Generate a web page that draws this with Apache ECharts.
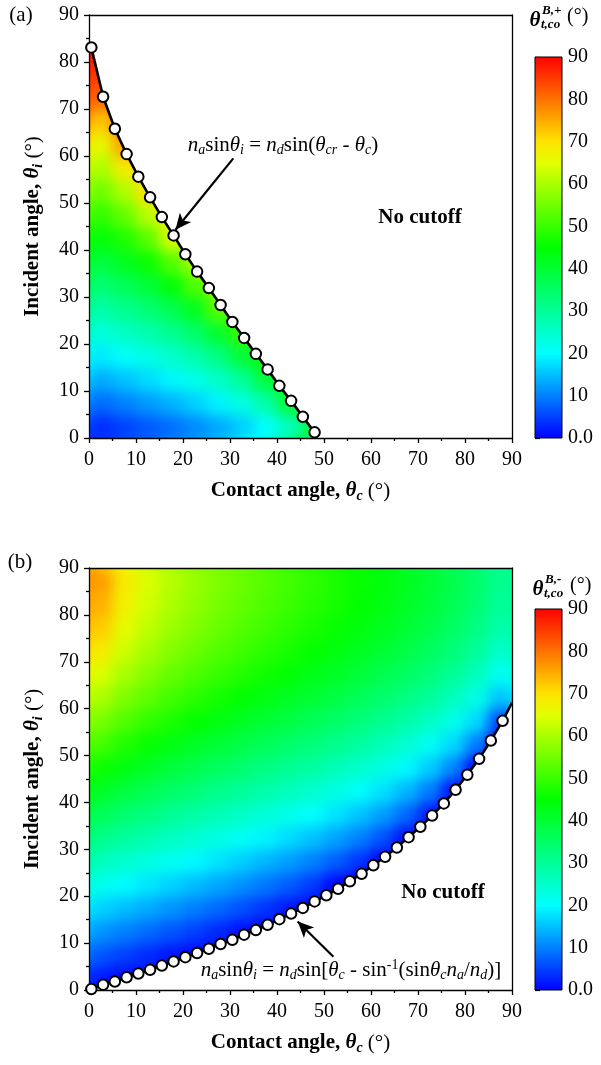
<!DOCTYPE html>
<html>
<head>
<meta charset="utf-8">
<script src="https://cdn.jsdelivr.net/npm/echarts@6/dist/echarts.min.js"></script>
<style>
  html, body { margin: 0; padding: 0; background: #fff; }
  #wrap { position: relative; width: 601px; height: 1065px; }
  #cells, #main { position: absolute; left: 0; top: 0; width: 601px; height: 1065px; }
  #cells { filter: blur(7px); }
</style>
</head>
<body>
<div id="wrap">
  <div id="cells"></div>
  <div id="main"></div>
</div>
<script>
const FONT = '"Liberation Serif", "Times New Roman", serif';

// colour scale 0..90 deg, one colour every 5 deg
const palette = ['#0000ff', '#0040ff', '#0080ff', '#00bfff', '#00ffff', '#00ffcc', '#00ff99', '#00ff66', '#00ff33', '#00ff00',
  '#39ff00', '#71ff00', '#aaff00', '#e3ff00', '#ffe300', '#ffaa00', '#ff7100', '#ff3900', '#ff0000'];
const axisTicks = [0, 10, 20, 30, 40, 50, 60, 70, 80, 90];

// cell centres (deg); each list below is one theta_c column, from theta_i = 2.5 upwards
const rowsI = [2.5, 7.5, 12.5, 17.5, 22.5, 27.5, 32.5, 37.5, 42.5, 47.5, 52.5, 57.5, 62.5, 67.5, 72.5, 77.5, 82.5, 87.5];
const colsA = [2.5, 7.5, 12.5, 17.5, 22.5, 27.5, 32.5, 37.5, 42.5, 47.5];
const valsA = [
  [3.3, 8.3, 13.4, 18.4, 23.5, 28.5, 33.7, 38.8, 44.0, 49.2, 54.6, 60.1, 65.9, 72.3, 81.1, 85, 88],
  [5.0, 10.1, 15.2, 20.4, 25.6, 30.9, 36.3, 41.8, 47.5, 53.7, 60.3, 68.6, 76, 80],
  [6.8, 12.0, 17.2, 22.5, 28.0, 33.6, 39.5, 45.8, 52.8, 61.2, 70],
  [8.7, 14.0, 19.4, 25.1, 30.9, 37.1, 44.0, 52.1, 64.0, 68],
  [10.8, 16.3, 22.1, 28.2, 34.8, 42.2, 51.7, 60],
  [13.2, 19.1, 25.5, 32.4, 40.6, 52.9, 57],
  [16.2, 22.7, 30.1, 39.4, 50],
  [20.1, 28.0, 38.6, 46],
  [26.1, 39.7, 43],
  [38]
];
const colsB = [2.5, 7.5, 12.5, 17.5, 22.5, 27.5, 32.5, 37.5, 42.5, 47.5, 52.5, 57.5, 62.5, 67.5, 72.5, 77.5, 82.5, 87.5];
const valsB = [
  [1.7, 6.7, 11.6, 16.6, 21.6, 26.5, 31.4, 36.3, 41.2, 46.0, 50.8, 55.5, 60.0, 64.3, 68.4, 72.1, 74.5, 76.3],
  [0.5, 5.0, 10.0, 14.9, 19.8, 24.7, 29.5, 34.2, 38.9, 43.4, 47.8, 52.1, 56.1, 59.8, 63.1, 65.8, 67.7, 68.7],
  [0, 3.3, 8.3, 13.3, 18.1, 22.9, 27.7, 32.3, 36.8, 41.2, 45.4, 49.4, 53.2, 56.5, 59.5, 61.8, 63.4, 64.3],
  [null, 1.6, 6.6, 11.6, 16.5, 21.2, 25.9, 30.5, 35.0, 39.2, 43.3, 47.2, 50.7, 53.9, 56.6, 58.8, 60.3, 61.0],
  [null, 0.3, 4.9, 9.9, 14.8, 19.6, 24.3, 28.8, 33.2, 37.4, 41.4, 45.2, 48.6, 51.7, 54.3, 56.3, 57.7, 58.4],
  [null, 0, 3.0, 8.1, 13.1, 17.9, 22.6, 27.2, 31.5, 35.7, 39.7, 43.4, 46.7, 49.7, 52.2, 54.2, 55.5, 56.2],
  [null, null, 1.0, 6.2, 11.3, 16.2, 20.9, 25.5, 29.9, 34.1, 38.0, 41.6, 45.0, 47.9, 50.4, 52.3, 53.6, 54.3],
  [null, null, 0, 4.1, 9.3, 14.3, 19.2, 23.8, 28.2, 32.4, 36.3, 40.0, 43.3, 46.2, 48.6, 50.5, 51.8, 52.5],
  [null, null, null, 1.7, 7.2, 12.3, 17.3, 22.0, 26.5, 30.7, 34.7, 38.3, 41.6, 44.5, 46.9, 48.8, 50.1, 50.7],
  [null, null, null, 0, 4.6, 10.1, 15.2, 20.1, 24.7, 29.0, 33.0, 36.6, 40.0, 42.8, 45.3, 47.2, 48.4, 49.1],
  [null, null, null, null, 0, 7.4, 12.8, 17.9, 22.7, 27.1, 31.2, 34.9, 38.3, 41.2, 43.6, 45.5, 46.8, 47.4],
  [null, null, null, null, 0, 4.0, 10.0, 15.4, 20.4, 25.0, 29.2, 33.0, 36.4, 39.4, 41.9, 43.8, 45.1, 45.7],
  [null, null, null, null, null, 0, 6.3, 12.3, 17.7, 22.6, 27.0, 31.0, 34.5, 37.5, 40.0, 42.0, 43.3, 44.0],
  [null, null, null, null, null, null, 0.8, 8.2, 14.3, 19.7, 24.4, 28.6, 32.3, 35.5, 38.1, 40.1, 41.4, 42.1],
  [null, null, null, null, null, null, null, 1.7, 9.7, 16.0, 21.3, 25.8, 29.8, 33.1, 35.8, 37.9, 39.3, 40.0],
  [null, null, null, null, null, null, null, null, 1.0, 10.4, 17.0, 22.3, 26.6, 30.3, 33.2, 35.4, 36.9, 37.6],
  [null, null, null, null, null, null, null, null, null, 0, 9.8, 17.1, 22.4, 26.6, 29.9, 32.3, 33.9, 34.8],
  [null, null, null, null, null, null, null, null, null, null, 0, 5.4, 15.5, 21.2, 25.3, 28.2, 30.1, 31.0]
];

// cutoff boundaries (circles)
const bndA_c = [0.5, 3, 5.5, 8, 10.5, 13, 15.5, 18, 20.5, 23, 25.5, 28, 30.5, 33, 35.5, 38, 40.5, 43, 45.5, 48];
const bndA_i = [83.1, 72.6, 65.8, 60.4, 55.6, 51.2, 47.0, 43.1, 39.1, 35.4, 31.9, 28.3, 24.7, 21.3, 17.9, 14.6, 11.1, 7.9, 4.5, 1.2];
const edgeA = [48.7, 0];
const bndB_c = [0.5, 3, 5.5, 8, 10.5, 13, 15.5, 18, 20.5, 23, 25.5, 28, 30.5, 33, 35.5, 38, 40.5, 43,
  45.5, 48, 50.5, 53, 55.5, 58, 60.5, 63, 65.5, 68, 70.5, 73, 75.5, 78, 80.5, 83, 85.5, 88];
const bndB_i = [0.2, 1.1, 1.8, 2.7, 3.5, 4.3, 5.2, 6.1, 7.0, 7.9, 8.8, 9.8, 10.7, 11.8, 12.8, 13.9, 15.1, 16.3,
  17.5, 18.9, 20.2, 21.6, 23.2, 24.8, 26.6, 28.4, 30.4, 32.6, 34.8, 37.2, 39.8, 42.7, 45.9, 49.3, 53.2, 57.4];
const edgeB = [90, 61.3];

// annotation arrows [from, to]
const arrowA = [[30.7, 59.5], [18.4, 44.3]];
const arrowB = [[52.0, 7.1], [44.4, 14.6]];

const AMIN = axisTicks[0], AMAX = axisTicks[axisTicks.length - 1];
const HALF = (rowsI[1] - rowsI[0]) / 2;

// plot boxes (px)
const G = { left: 89, width: 423, topA: 15, hA: 423, topB: 568, hB: 422 };
const grids = [
  { left: G.left, top: G.topA, width: G.width, height: G.hA, outerBoundsMode: 'none' },
  { left: G.left, top: G.topB, width: G.width, height: G.hB, outerBoundsMode: 'none' }
];

function cells(cols, vals) {
  const out = [];
  cols.forEach((c, k) => vals[k].forEach((v, j) => {
    if (v != null) out.push([c, rowsI[j], v]);
  }));
  return out;
}
function zip(a, b) { return a.map((v, k) => [v, b[k]]); }

const ptsA = zip(bndA_c, bndA_i);
const ptsB = zip(bndB_c, bndB_i);
const maskA = [[AMIN, AMAX], [AMIN, bndA_i[0]]].concat(ptsA, [edgeA, [AMAX, AMIN], [AMAX, AMAX]]);
const maskB = [[AMIN, AMIN]].concat(ptsB, [edgeB, [AMAX, AMIN]]);

function cellItem(pad) {
  return function (params, api) {
    const p = api.coord([api.value(0) - HALF, api.value(1) + HALF]);
    const s = api.size([2 * HALF, 2 * HALF]);
    return { type: 'rect', shape: { x: p[0] - pad, y: p[1] - pad, width: s[0] + 2 * pad + 0.8, height: s[1] + 2 * pad + 0.8 },
      style: { fill: api.visual('color') } };
  };
}
function maskItem(pts) {
  return function (params, api) {
    return { type: 'polygon', shape: { points: pts.map(p => api.coord(p)) }, style: { fill: '#fff' } };
  };
}
function barItem(params, api) {
  const a = api.coord([0, AMAX]);
  const b = api.coord([1, AMIN]);
  const stops = palette.map((c, k) => ({ offset: k / (palette.length - 1), color: c }));
  return { type: 'rect', shape: { x: a[0], y: a[1], width: b[0] - a[0], height: b[1] - a[1] },
    style: { fill: new echarts.graphic.LinearGradient(0, 1, 0, 0, stops), stroke: '#000', lineWidth: 1 } };
}

// ---- colour layer (softened by the css blur) ----
const hiddenAx = gi => ({ gridIndex: gi, type: 'value', min: AMIN, max: AMAX, show: false });
const dataA = cells(colsA, valsA);
const dataB = cells(colsB, valsB);
const cellChart = echarts.init(document.getElementById('cells'));
cellChart.setOption({
  animation: false,
  backgroundColor: '#fff',
  grid: grids,
  xAxis: [hiddenAx(0), hiddenAx(1)],
  yAxis: [hiddenAx(0), hiddenAx(1)],
  visualMap: { type: 'continuous', show: false, dimension: 2, min: AMIN, max: AMAX, inRange: { color: palette } },
  series: [
    { type: 'custom', xAxisIndex: 0, yAxisIndex: 0, data: dataA, renderItem: cellItem(16), clip: false, z: 1, silent: true },
    { type: 'custom', xAxisIndex: 0, yAxisIndex: 0, data: dataA, renderItem: cellItem(0), clip: false, z: 2, silent: true },
    { type: 'custom', xAxisIndex: 1, yAxisIndex: 1, data: dataB, renderItem: cellItem(16), clip: false, z: 1, silent: true },
    { type: 'custom', xAxisIndex: 1, yAxisIndex: 1, data: dataB, renderItem: cellItem(0), clip: false, z: 2, silent: true }
  ]
});

// ---- axes, boundaries, labels ----
const nameRich = {
  it: { fontFamily: FONT, fontSize: 21, fontWeight: 'bold', fontStyle: 'italic', lineHeight: 24 },
  sub: { fontFamily: FONT, fontSize: 14, fontWeight: 'bold', fontStyle: 'italic', lineHeight: 12, verticalAlign: 'bottom' },
  n: { fontFamily: FONT, fontSize: 21, fontWeight: 'normal', lineHeight: 24 }
};
const nameStyle = { fontFamily: FONT, fontSize: 21, fontWeight: 'bold', color: '#000', lineHeight: 24, rich: nameRich };
const line = { color: '#000', width: 1.3 };

function mainX(gi) {
  return { gridIndex: gi, type: 'value', min: AMIN, max: AMAX, interval: 10, position: 'bottom', z: 5,
    axisLine: { onZero: false, lineStyle: line },
    axisTick: { length: 5, lineStyle: line },
    minorTick: { show: true, splitNumber: 2, length: 3, lineStyle: line },
    splitLine: { show: false }, minorSplitLine: { show: false },
    axisLabel: { fontFamily: FONT, fontSize: 20, color: '#000', margin: 12, showMinLabel: true, showMaxLabel: true },
    name: 'Contact angle, {it|θ}{sub|c} {n|(°)}', nameLocation: 'middle', nameGap: 41, nameTextStyle: nameStyle };
}
function mainY(gi) {
  return { gridIndex: gi, type: 'value', min: AMIN, max: AMAX, interval: 10, position: 'left', z: 5,
    axisLine: { onZero: false, lineStyle: line },
    axisTick: { length: 5, lineStyle: line },
    minorTick: { show: true, splitNumber: 2, length: 3, lineStyle: line },
    splitLine: { show: false }, minorSplitLine: { show: false },
    axisLabel: { fontFamily: FONT, fontSize: 20, color: '#000', margin: 10, showMinLabel: true, showMaxLabel: true },
    name: 'Incident angle, {it|θ}{sub|i} {n|(°)}', nameLocation: 'middle', nameGap: 44, nameTextStyle: nameStyle };
}
function frame(gi, pos) {
  return { gridIndex: gi, type: 'value', min: AMIN, max: AMAX, position: pos, z: 5,
    axisLine: { onZero: false, lineStyle: line }, axisTick: { show: false }, axisLabel: { show: false },
    splitLine: { show: false } };
}
function cbX(gi) {
  return { gridIndex: gi, type: 'value', min: 0, max: 1, show: false };
}
function cbY(gi) {
  return { gridIndex: gi, type: 'value', min: AMIN, max: AMAX, interval: 10, position: 'right',
    axisLine: { show: false }, axisTick: { show: true, length: 5, lineStyle: { color: '#000', width: 1.2 } },
    splitLine: { show: false },
    axisLabel: { fontFamily: FONT, fontSize: 20, color: '#000', margin: 6, showMinLabel: true, showMaxLabel: true,
      formatter: v => (v === 0 ? '0.0' : String(v)) } };
}

function boundary(gi, pts, end, arrow) {
  const data = pts.map(p => p.slice());
  if (end) data.push({ value: end, symbol: 'none' });
  return {
    type: 'line', xAxisIndex: gi * 2, yAxisIndex: gi * 2, data: data, z: 10, clip: false,
    symbol: 'circle', symbolSize: 10.5, showAllSymbol: true,
    itemStyle: { color: '#fff', borderColor: '#000', borderWidth: 2 },
    lineStyle: { color: '#000', width: 2.6 },
    emphasis: { disabled: true },
    markLine: {
      silent: true, symbol: ['none', 'arrow'], symbolSize: [11, 16], label: { show: false },
      lineStyle: { color: '#000', width: 2.2, type: 'solid' }, emphasis: { disabled: true },
      data: [[{ coord: arrow[0] }, { coord: arrow[1] }]]
    }
  };
}

const textRich = {
  r: { fontFamily: FONT, fontSize: 21, lineHeight: 24, fill: '#000' },
  it: { fontFamily: FONT, fontSize: 21, fontStyle: 'italic', lineHeight: 24, fill: '#000' },
  sub: { fontFamily: FONT, fontSize: 14, fontStyle: 'italic', lineHeight: 12, verticalAlign: 'bottom', fill: '#000' },
  sup: { fontFamily: FONT, fontSize: 14, lineHeight: 12, verticalAlign: 'top', fill: '#000' }
};
const eqA = '{it|n}{sub|a}{r|sin}{it|θ}{sub|i}{r| = }{it|n}{sub|d}{r|sin(}{it|θ}{sub|cr}{r| - }{it|θ}{sub|c}{r|)}';
const eqB = '{it|n}{sub|a}{r|sin}{it|θ}{sub|i}{r| = }{it|n}{sub|d}{r|sin[}{it|θ}{sub|c}{r| - sin}{sup|-1}{r|(sin}{it|θ}{sub|c}{it|n}{sub|a}{r|/}{it|n}{sub|d}{r|)]}';

function txt(x, y, text, extra) {
  return { type: 'text', x: x, y: y, z: 20,
    style: Object.assign({ text: text, fill: '#000', fontFamily: FONT, fontSize: 20 }, extra || {}) };
}
function cbTitle(x, y, sign) {
  const bi = { fontFamily: FONT, fontWeight: 'bold', fontStyle: 'italic' };
  return [
    txt(x, y, 'θ', Object.assign({ fontSize: 21, align: 'center', verticalAlign: 'middle' }, bi)),
    txt(x + 7, y - 10, 'B,' + sign, Object.assign({ fontSize: 13, verticalAlign: 'middle' }, bi)),
    txt(x + 6, y + 4, 't,co', Object.assign({ fontSize: 13, verticalAlign: 'middle' }, bi)),
    txt(x + 32, y - 4, '(°)', { fontSize: 20, verticalAlign: 'middle' })
  ];
}
// white surround hiding the softened colour outside both plot boxes
function cover(x, y, w, h) {
  return { type: 'rect', z: 0, silent: true, shape: { x: x, y: y, width: w, height: h }, style: { fill: '#fff' } };
}
const right = G.left + G.width, botA = G.topA + G.hA, botB = G.topB + G.hB;
const covers = [
  cover(0, 0, 601, G.topA),
  cover(0, botA, 601, G.topB - botA),
  cover(0, botB, 601, 1065 - botB),
  cover(0, 0, G.left, 1065),
  cover(right, 0, 601 - right, 1065)
];

const chart = echarts.init(document.getElementById('main'));
chart.setOption({
  animation: false,
  backgroundColor: 'transparent',
  grid: grids.concat([
    { left: 535, top: 57, width: 27, height: 381, outerBoundsMode: 'none' },
    { left: 535, top: 609, width: 27, height: 381, outerBoundsMode: 'none' }
  ]),
  xAxis: [mainX(0), frame(0, 'top'), mainX(1), frame(1, 'top'), cbX(2), cbX(3)],
  yAxis: [mainY(0), frame(0, 'right'), mainY(1), frame(1, 'right'), cbY(2), cbY(3)],
  series: [
    { type: 'custom', xAxisIndex: 0, yAxisIndex: 0, data: [[0, 0]], renderItem: maskItem(maskA), clip: true, z: 2, silent: true },
    boundary(0, ptsA, null, arrowA),
    { type: 'custom', xAxisIndex: 4, yAxisIndex: 4, data: [[0, 0]], renderItem: barItem, silent: true, z: 3 },
    { type: 'custom', xAxisIndex: 2, yAxisIndex: 2, data: [[0, 0]], renderItem: maskItem(maskB), clip: true, z: 2, silent: true },
    boundary(1, ptsB, edgeB, arrowB),
    { type: 'custom', xAxisIndex: 5, yAxisIndex: 5, data: [[0, 0]], renderItem: barItem, silent: true, z: 3 }
  ],
  graphic: covers.concat([
    txt(21, 15, '(a)', { align: 'center', verticalAlign: 'middle', fontSize: 21 }),
    txt(20, 562, '(b)', { align: 'center', verticalAlign: 'middle', fontSize: 21 }),
    txt(283, 145, eqA, { align: 'center', verticalAlign: 'middle', rich: textRich }),
    txt(351, 970, eqB, { align: 'center', verticalAlign: 'middle', rich: textRich }),
    txt(420, 218, 'No cutoff', { align: 'center', verticalAlign: 'middle', fontWeight: 'bold', fontSize: 21 }),
    txt(443, 893, 'No cutoff', { align: 'center', verticalAlign: 'middle', fontWeight: 'bold', fontSize: 21 })
  ], cbTitle(535, 21, '+'), cbTitle(538, 590, '-'))
});
</script>
</body>
</html>
